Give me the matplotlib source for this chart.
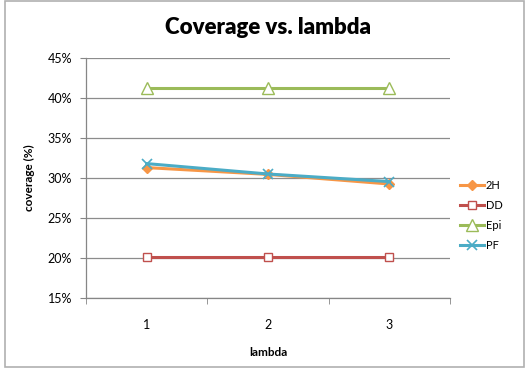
import matplotlib
matplotlib.use("Agg")
import matplotlib.pyplot as plt
from matplotlib.patches import Rectangle
from matplotlib.ticker import FuncFormatter

plt.rcParams['font.family'] = ['Lato', 'DejaVu Sans']

categories = ["1", "2", "3"]
s_2h = [31.3, 30.45, 29.25]
s_dd = [20.15, 20.15, 20.15]
s_epi = [41.3, 41.3, 41.3]
s_pf = [31.8, 30.5, 29.55]
yticks = [15, 20, 25, 30, 35, 40, 45]

fig = plt.figure(figsize=(5.25, 3.68), dpi=100)
fig.patches.append(Rectangle((5/525, 1/368), 519/525, 366/368, transform=fig.transFigure,
                             fill=False, edgecolor='#b0b0b0', linewidth=1.2))

ax = fig.add_axes([86/525, 1-298/368, 364/525, 240/368])
x = range(len(categories))
lw = 2.2
ax.plot(x, s_2h, color='#F79646', lw=lw, marker='D', ms=5, mfc='#F79646', mec='#F79646', label='2H', zorder=4)
ax.plot(x, s_dd, color='#C0504D', lw=lw, marker='s', ms=6, mfc='white', mec='#C0504D', mew=1, label='DD', zorder=3)
ax.plot(x, s_epi, color='#9BBB59', lw=lw, marker='^', ms=9, mfc='white', mec='#9BBB59', mew=1, label='Epi', zorder=3)
ax.plot(x, s_pf, color='#4BACC6', lw=lw, marker='x', ms=7, mec='#4BACC6', mew=1.2, label='PF', zorder=5)

ax.set_xlim(-0.5, 2.5)
ax.set_ylim(15, 45)
ax.set_yticks(yticks)
ax.yaxis.set_major_formatter(FuncFormatter(lambda v, p: f"{int(v)}%"))
ax.set_xticks(list(x))
ax.set_xticklabels(categories)
ax.set_xticks([-0.5, 0.5, 1.5, 2.5], minor=True)
ax.tick_params(axis='x', which='major', length=0, pad=15, labelsize=9)
ax.tick_params(axis='x', which='minor', length=4, color='#868686', direction='out')
ax.tick_params(axis='y', length=4, color='#868686', direction='out', labelsize=9, pad=6)
ax.grid(axis='y', color='#8c8c8c', lw=0.9)
ax.set_axisbelow(True)
for s in ['top', 'right']:
    ax.spines[s].set_visible(False)
for s in ['left', 'bottom']:
    ax.spines[s].set_color('#868686')
    ax.spines[s].set_linewidth(0.9)

ax.set_xlabel('lambda', fontsize=8.5, fontweight='bold', labelpad=12)
ax.set_ylabel('coverage (%)', fontsize=8.5, fontweight='bold', labelpad=9)
fig.text(268/525, 1-28/368, 'Coverage vs. lambda', ha='center', va='center',
         fontsize=16, fontweight='heavy')

leg = ax.legend(loc='center left', bbox_to_anchor=(1.0, 0.345), frameon=False,
                fontsize=8, handlelength=2.2, handletextpad=0.1, labelspacing=0.8,
                borderaxespad=0.5)

fig.savefig('out.png', dpi=100)
